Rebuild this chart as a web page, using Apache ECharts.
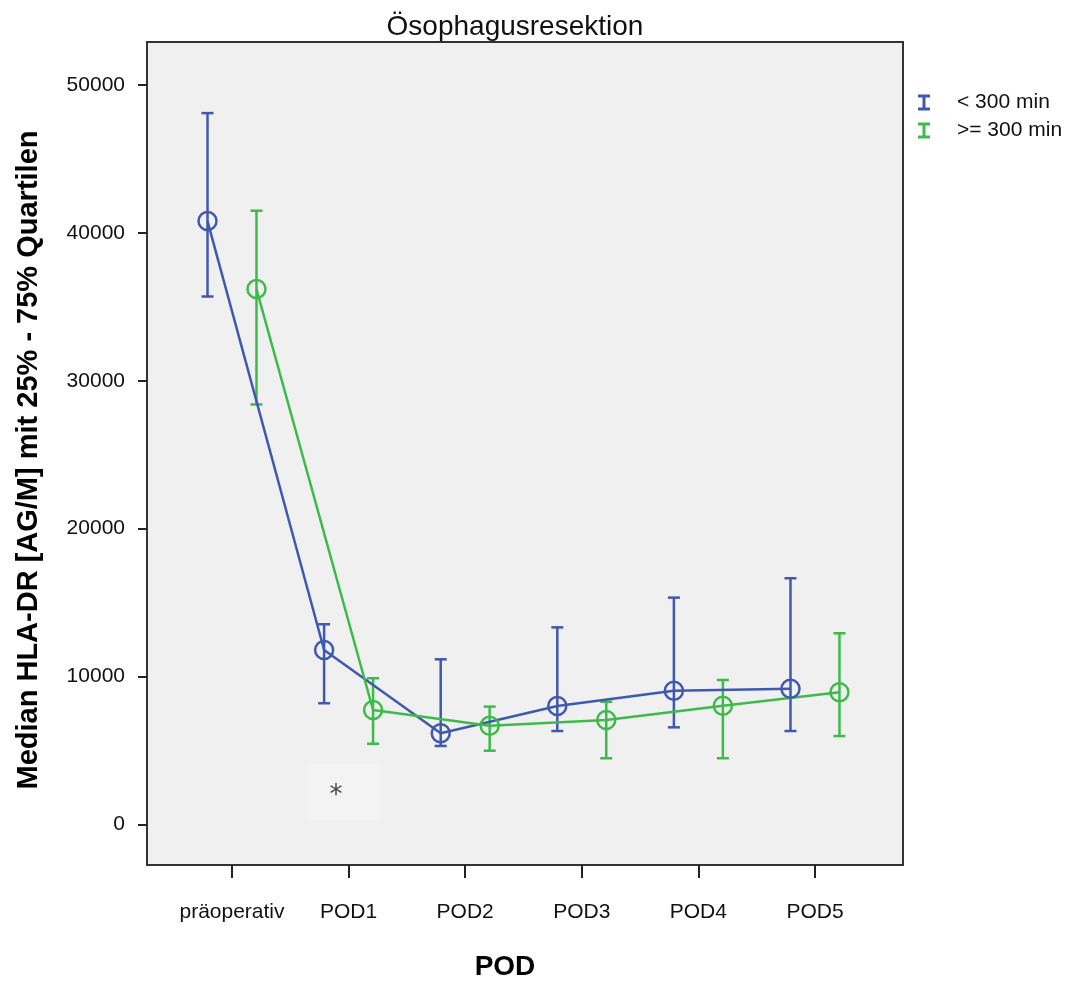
<!DOCTYPE html>
<html>
<head>
<meta charset="utf-8">
<script src="https://cdn.jsdelivr.net/npm/echarts@6/dist/echarts.min.js"></script>
<style>
  html, body { margin: 0; padding: 0; background: #fff; }
  #chart { width: 1066px; height: 981px; }
</style>
</head>
<body>
<div id="chart"></div>
<script>
// Kategorien und Mediane mit 25%/75%-Quartilen
const categories = ['präoperativ', 'POD1', 'POD2', 'POD3', 'POD4', 'POD5']
const yTicks = [0, 10000, 20000, 30000, 40000, 50000]

const shortMedian = [40800, 11800, 6170, 8010, 9050, 9180]
const shortQ1 = [35700, 8200, 5310, 6320, 6570, 6320]
const shortQ3 = [48100, 13540, 11170, 13330, 15340, 16650]

const longMedian = [36200, 7740, 6680, 7070, 8030, 8940]
const longQ1 = [28400, 5460, 4990, 4480, 4480, 5980]
const longQ3 = [41500, 9890, 7970, 8300, 9770, 12930]

const groupNames = ['< 300 min', '>= 300 min']
const groupColors = ['#3f58b0', '#3dbb4a']
const groupOffset = [-0.21, 0.21]

// Signifikanz-Markierung bei POD1
const starPos = [[0.96, 2200]]

const font = '"Liberation Sans", Arial, sans-serif'

function points(values, offset) {
  return values.map((v, i) => [i + offset, v])
}

function bars(q1, q3, offset) {
  return q1.map((lo, i) => [i + offset, lo, q3[i]])
}

function errorBar(color) {
  return function (params, api) {
    const x = api.value(0)
    const lo = api.coord([x, api.value(1)])
    const hi = api.coord([x, api.value(2)])
    const half = 6
    const style = { stroke: color, lineWidth: 2.5 }
    return {
      type: 'group',
      children: [
        { type: 'line', shape: { x1: hi[0], y1: hi[1], x2: lo[0], y2: lo[1] }, style },
        { type: 'line', shape: { x1: hi[0] - half, y1: hi[1], x2: hi[0] + half, y2: hi[1] }, style },
        { type: 'line', shape: { x1: lo[0] - half, y1: lo[1], x2: lo[0] + half, y2: lo[1] }, style }
      ]
    }
  }
}

function groupSeries(idx, median, q1, q3) {
  const color = groupColors[idx]
  const offset = groupOffset[idx]
  return [
    {
      name: groupNames[idx],
      type: 'custom',
      renderItem: errorBar(color),
      data: bars(q1, q3, offset),
      z: 2
    },
    {
      name: groupNames[idx],
      type: 'line',
      data: points(median, offset),
      symbol: 'circle',
      symbolSize: 18,
      itemStyle: { color: 'rgba(0,0,0,0)', borderColor: color, borderWidth: 2.5 },
      lineStyle: { color, width: 2.5 },
      emphasis: { disabled: true },
      z: 3
    }
  ]
}

const chart = echarts.init(document.getElementById('chart'))

chart.setOption({
  animation: false,
  title: {
    text: 'Ösophagusresektion',
    left: 510,
    top: 8,
    textAlign: 'center',
    textStyle: { fontFamily: font, fontSize: 28, fontWeight: 'normal', color: '#111' }
  },
  legend: {
    orient: 'vertical',
    left: 918,
    top: 92,
    padding: 0,
    itemWidth: 12,
    itemHeight: 16,
    itemGap: 7,
    icon: 'path://M0,0H12V3H7.5V13H12V16H0V13H4.5V3H0Z',
    data: groupNames.map((name, i) => ({ name, itemStyle: { color: groupColors[i], borderWidth: 0 } })),
    textStyle: { fontFamily: font, fontSize: 21, color: '#111', padding: [0, 0, 0, 22] }
  },
  grid: {
    left: 147,
    top: 42,
    width: 756,
    height: 823,
    outerBoundsMode: 'none',
    containLabel: false,
    show: true,
    backgroundColor: '#f0f0f0',
    borderColor: '#333',
    borderWidth: 2
  },
  xAxis: {
    type: 'value',
    min: -0.729,
    max: 5.755,
    name: 'POD',
    nameLocation: 'middle',
    nameGap: 88,
    nameTextStyle: { fontFamily: font, fontSize: 28, fontWeight: 'bold', color: '#000', padding: [0, 40, 0, 0] },
    axisLine: { show: false, onZero: false },
    splitLine: { show: false },
    axisTick: { show: true, length: 13, customValues: categories.map((c, i) => i), lineStyle: { color: '#222', width: 2 } },
    axisLabel: {
      customValues: categories.map((c, i) => i),
      margin: 37,
      formatter: (v) => categories[Math.round(v)],
      fontFamily: font,
      fontSize: 21,
      color: '#111'
    }
  },
  yAxis: {
    type: 'value',
    min: -2738,
    max: 52907,
    name: 'Median HLA-DR [AG/M] mit 25% - 75% Quartilen',
    nameLocation: 'middle',
    nameRotate: 90,
    nameGap: 104,
    nameTextStyle: { fontFamily: font, fontSize: 29, fontWeight: 'bold', color: '#000', padding: [0, 13, 0, 0] },
    axisLine: { show: false, onZero: false },
    splitLine: { show: false },
    axisTick: { show: true, length: 9, customValues: yTicks, lineStyle: { color: '#222', width: 2 } },
    axisLabel: {
      customValues: yTicks,
      margin: 22,
      formatter: (v) => String(v),
      fontFamily: font,
      fontSize: 21,
      color: '#111'
    }
  },
  series: [
    ...groupSeries(0, shortMedian, shortQ1, shortQ3),
    ...groupSeries(1, longMedian, longQ1, longQ3),
    {
      type: 'scatter',
      data: starPos,
      symbol: 'rect',
      symbolSize: [73, 56],
      itemStyle: { color: '#f4f4f4' },
      label: { show: true, position: 'inside', offset: [-8, 4], formatter: '*', fontFamily: '"DejaVu Sans", sans-serif', fontSize: 26, color: '#111' },
      emphasis: { disabled: true },
      z: 1
    }
  ]
})
</script>
</body>
</html>
